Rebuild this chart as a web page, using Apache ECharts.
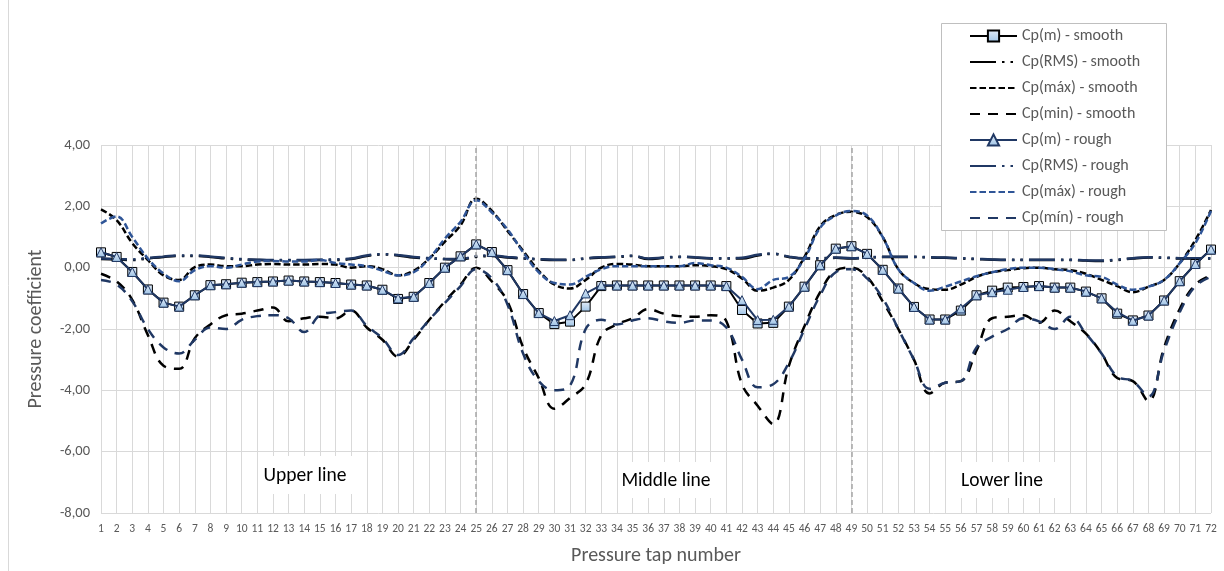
<!DOCTYPE html>
<html><head><meta charset="utf-8">
<script src="https://cdn.jsdelivr.net/npm/echarts@6/dist/echarts.min.js"></script>
<style>html,body{margin:0;padding:0;background:#fff}#c{width:1224px;height:571px}</style>
</head><body><div id="c"></div>
<script>
const taps = Array.from({length:72},(_,i)=>String(i+1));
const yTicks = {min:-8,max:4,step:2};
const sectionLabels = ['Upper line','Middle line','Lower line'];
const dividerTaps = ['25','49'];

const meanSmooth = [0.5,0.35,-0.14,-0.71,-1.14,-1.27,-0.9,-0.57,-0.54,-0.49,
 -0.47,-0.45,-0.42,-0.45,-0.47,-0.5,-0.55,-0.58,-0.72,-1.02,
 -0.95,-0.5,0.0,0.37,0.76,0.51,-0.08,-0.86,-1.48,-1.84,
 -1.76,-1.27,-0.6,-0.58,-0.58,-0.58,-0.58,-0.58,-0.58,-0.58,
 -0.6,-1.38,-1.82,-1.8,-1.27,-0.62,0.08,0.62,0.7,0.45,
 -0.07,-0.68,-1.28,-1.69,-1.69,-1.4,-0.9,-0.75,-0.65,-0.63,
 -0.6,-0.65,-0.65,-0.78,-1.0,-1.5,-1.72,-1.56,-1.07,-0.44,0.12,0.59];
const rmsSmooth = [0.28,0.27,0.25,0.3,0.35,0.38,0.38,0.35,0.3,0.27,
 0.25,0.24,0.24,0.24,0.25,0.25,0.28,0.38,0.43,0.4,
 0.33,0.3,0.28,0.27,0.35,0.38,0.33,0.3,0.27,0.25,
 0.25,0.3,0.33,0.35,0.38,0.28,0.32,0.35,0.33,0.3,
 0.3,0.3,0.4,0.45,0.35,0.3,0.3,0.32,0.3,0.32,
 0.35,0.35,0.35,0.33,0.32,0.3,0.28,0.26,0.25,0.25,
 0.25,0.25,0.25,0.23,0.22,0.25,0.3,0.33,0.32,0.3,0.3,0.3];
const maxSmooth = [1.9,1.55,0.8,0.25,-0.25,-0.4,0.02,0.1,0.05,0.05,
 0.1,0.12,0.1,0.1,0.12,0.1,0.0,0.05,-0.05,-0.25,
 -0.1,0.3,0.85,1.38,2.25,1.85,1.2,0.55,-0.1,-0.55,
 -0.68,-0.4,0.0,0.12,0.1,0.05,0.05,0.05,0.08,0.05,
 -0.05,-0.35,-0.75,-0.65,-0.4,0.35,1.35,1.72,1.82,1.65,
 1.0,-0.05,-0.5,-0.7,-0.72,-0.55,-0.3,-0.15,-0.08,-0.02,
 0.0,-0.05,-0.08,-0.2,-0.4,-0.6,-0.8,-0.62,-0.4,0.15,0.9,1.88];
const minSmooth = [-0.2,-0.45,-1.05,-2.2,-3.2,-3.3,-2.3,-1.85,-1.55,-1.5,
 -1.4,-1.3,-1.75,-1.65,-1.6,-1.65,-1.4,-1.95,-2.35,-2.9,
 -2.35,-1.7,-1.1,-0.55,0.0,-0.45,-1.1,-2.6,-3.6,-4.6,
 -4.25,-3.8,-2.2,-1.85,-1.65,-1.35,-1.5,-1.58,-1.6,-1.55,
 -1.75,-3.8,-4.5,-5.1,-3.2,-1.9,-0.8,-0.1,0.0,-0.3,
 -1.1,-2.0,-3.0,-4.1,-3.75,-3.7,-2.7,-1.65,-1.6,-1.55,
 -1.8,-1.4,-1.75,-2.15,-2.8,-3.6,-3.7,-4.35,-2.6,-1.35,-0.55,-0.25];
const meanRough = [0.5,0.35,-0.14,-0.71,-1.14,-1.27,-0.9,-0.57,-0.54,-0.49,
 -0.47,-0.45,-0.42,-0.45,-0.47,-0.5,-0.55,-0.58,-0.72,-1.0,
 -0.95,-0.5,0.0,0.37,0.76,0.51,-0.08,-0.86,-1.48,-1.74,
 -1.55,-0.84,-0.57,-0.58,-0.58,-0.58,-0.58,-0.58,-0.58,-0.58,
 -0.6,-1.06,-1.71,-1.7,-1.27,-0.62,0.08,0.62,0.7,0.45,
 -0.07,-0.68,-1.28,-1.69,-1.69,-1.33,-0.9,-0.8,-0.72,-0.63,
 -0.6,-0.65,-0.65,-0.78,-1.0,-1.45,-1.73,-1.56,-1.07,-0.44,0.12,0.59];
const rmsRough = [0.3,0.28,0.27,0.32,0.36,0.4,0.4,0.36,0.32,0.28,
 0.26,0.25,0.25,0.25,0.26,0.27,0.3,0.4,0.44,0.41,
 0.35,0.31,0.28,0.28,0.38,0.4,0.35,0.31,0.28,0.26,
 0.26,0.31,0.34,0.36,0.39,0.3,0.33,0.36,0.34,0.31,
 0.31,0.32,0.42,0.46,0.36,0.31,0.31,0.33,0.31,0.33,
 0.36,0.36,0.36,0.34,0.33,0.31,0.29,0.27,0.26,0.26,
 0.26,0.26,0.26,0.24,0.23,0.26,0.31,0.34,0.33,0.31,0.31,0.31];
const maxRough = [1.44,1.67,1.0,0.3,-0.19,-0.44,-0.08,0.05,0.0,0.1,
 0.2,0.22,0.2,0.2,0.25,0.15,0.1,0.05,-0.1,-0.25,
 -0.15,0.3,0.95,1.5,2.2,1.8,1.25,0.5,-0.15,-0.5,
 -0.55,-0.3,-0.05,0.05,0.05,0.05,0.05,0.05,0.15,0.08,
 0.0,-0.3,-0.7,-0.4,-0.3,0.3,1.3,1.7,1.85,1.7,
 1.0,-0.05,-0.5,-0.75,-0.62,-0.45,-0.28,-0.15,-0.05,0.0,
 0.0,-0.05,-0.12,-0.25,-0.3,-0.55,-0.72,-0.62,-0.4,0.15,0.8,1.85];
const minRough = [-0.4,-0.55,-1.1,-2.0,-2.6,-2.8,-2.35,-1.95,-2.0,-1.7,
 -1.58,-1.55,-1.65,-2.1,-1.55,-1.45,-1.4,-1.9,-2.3,-2.85,
 -2.3,-1.7,-1.15,-0.6,-0.05,-0.35,-1.2,-2.8,-3.7,-4.0,
 -3.85,-2.0,-1.7,-1.85,-1.72,-1.65,-1.75,-1.8,-1.72,-1.72,
 -1.95,-3.0,-3.9,-3.8,-3.1,-2.0,-0.9,-0.15,-0.05,-0.35,
 -1.0,-2.0,-3.0,-3.95,-3.75,-3.7,-2.6,-2.25,-2.0,-1.65,
 -1.75,-2.0,-1.6,-2.15,-2.8,-3.55,-3.7,-4.2,-2.7,-1.45,-0.6,-0.3];

const BLACK='#000000', NAVY='#203864', BLUE='#2F5597', GRID='#D9D9D9', TXT='#595959';
const NARROW="Carlito, 'Liberation Sans Narrow', 'Open Sans', sans-serif";
const FONT="Carlito, 'Liberation Sans', Arial, sans-serif";
const markerFill = {type:'linear',x:0,y:0,x2:0,y2:1,colorStops:[{offset:0,color:'#E4ECF7'},{offset:1,color:'#9DC3E6'}]};
const RMS_DASH=[26,6,2.5,6,2.5,6], MAX_DASH=[6.5,3], MIN_DASH=[10,8];

function lineSeries(name,data,color,width,dash,smooth,extra){
  return Object.assign({
    name, type:'line', data, symbol:'none', smooth: smooth,
    lineStyle:{color, width, type:dash, cap:'butt'},
    itemStyle:{color}, emphasis:{disabled:true}, z:2
  }, extra||{});
}

const chart = echarts.init(document.getElementById('c'), null, {renderer:'canvas'});
const series = [
  lineSeries('Cp(m) - smooth', meanSmooth, BLACK, 2, 'solid', false, {
    symbol:'rect', symbolSize:9, showSymbol:true,
    itemStyle:{color:markerFill, borderColor:BLACK, borderWidth:1}, z:4,
    markLine:{silent:true, symbol:'none', label:{show:false},
      lineStyle:{color:'#A6A6A6', width:1.5, type:[5,3]},
      data: dividerTaps.map(t=>({xAxis:t}))}
  }),
  lineSeries('Cp(RMS) - smooth', rmsSmooth, BLACK, 2.5, RMS_DASH, 0.4),
  lineSeries('Cp(máx) - smooth', maxSmooth, BLACK, 2.5, MAX_DASH, 0.4),
  lineSeries('Cp(min) - smooth', minSmooth, BLACK, 2.5, MIN_DASH, 0.4),
  lineSeries('Cp(m) - rough', meanRough, NAVY, 2, 'solid', false, {
    symbol:'triangle', symbolSize:9, showSymbol:true,
    itemStyle:{color:markerFill, borderColor:NAVY, borderWidth:1}, z:5
  }),
  lineSeries('Cp(RMS) - rough', rmsRough, NAVY, 2.5, RMS_DASH, 0.4),
  lineSeries('Cp(máx) - rough', maxRough, BLUE, 2.5, MAX_DASH, 0.4),
  lineSeries('Cp(mín) - rough', minRough, NAVY, 2.5, MIN_DASH, 0.4)
];
const HIDDEN = {color:'rgba(0,0,0,0)', borderColor:'rgba(0,0,0,0)', borderWidth:0};
const legendData = series.map(s => s.symbol==='none' ? {name:s.name, itemStyle:HIDDEN} : {name:s.name});

chart.setOption({
  animation:false,
  backgroundColor:'#fff',
  textStyle:{fontFamily:FONT},
  grid:{left:101, right:13, top:145, bottom:57, containLabel:false},
  legend:{
    data:legendData,
    orient:'vertical', left:969, top:28,
    padding:0, itemWidth:47, itemHeight:14, itemGap:10,
    textStyle:{color:TXT, fontSize:16, fontFamily:FONT, lineHeight:14},
    inactiveColor:TXT, selectedMode:false, z:10
  },
  xAxis:{
    type:'category', data:taps, boundaryGap:false,
    name:'Pressure tap number', nameLocation:'middle', nameGap:33,
    nameTextStyle:{color:TXT, fontSize:20, fontFamily:FONT},
    axisLine:{lineStyle:{color:GRID, width:1}},
    axisTick:{show:true, alignWithLabel:true, length:4, lineStyle:{color:GRID}},
    axisLabel:{interval:0, color:TXT, fontSize:11.5, fontFamily:NARROW, margin:10},
    splitLine:{show:true, interval:0, lineStyle:{color:GRID, width:1}}
  },
  yAxis:{
    type:'value', min:yTicks.min, max:yTicks.max, interval:yTicks.step,
    name:'Pressure coefficient', nameLocation:'middle', nameGap:55,
    nameTextStyle:{color:TXT, fontSize:20, fontFamily:FONT},
    axisLine:{show:false}, axisTick:{show:false},
    axisLabel:{color:TXT, fontSize:14.5, fontFamily:FONT, margin:11,
      formatter:v=>v.toFixed(2).replace('.',',')},
    splitLine:{lineStyle:{color:GRID, width:1}}
  },
  graphic:[
    {type:'line', shape:{x1:8.5,y1:0,x2:8.5,y2:571}, style:{stroke:GRID, lineWidth:1}, silent:true},
    {type:'rect', shape:{x:941.5,y:23.5,width:225,height:207}, style:{fill:'#fff', stroke:'#BFBFBF', lineWidth:1}, z:8, silent:true},
    {type:'rect', shape:{x:258,y:456,width:95,height:38}, style:{fill:'#fff'}, z:6, silent:true},
    {type:'text', x:305, y:476, style:{text:sectionLabels[0], fill:'#000', font:'19.5px '+FONT, align:'center', verticalAlign:'middle'}, z:7},
    {type:'rect', shape:{x:618,y:462,width:94,height:36}, style:{fill:'#fff'}, z:6, silent:true},
    {type:'text', x:666, y:481, style:{text:sectionLabels[1], fill:'#000', font:'19.5px '+FONT, align:'center', verticalAlign:'middle'}, z:7},
    {type:'rect', shape:{x:960,y:462,width:95,height:36}, style:{fill:'#fff'}, z:6, silent:true},
    {type:'text', x:1002, y:481, style:{text:sectionLabels[2], fill:'#000', font:'19.5px '+FONT, align:'center', verticalAlign:'middle'}, z:7}
  ],
  series
});
</script></body></html>
